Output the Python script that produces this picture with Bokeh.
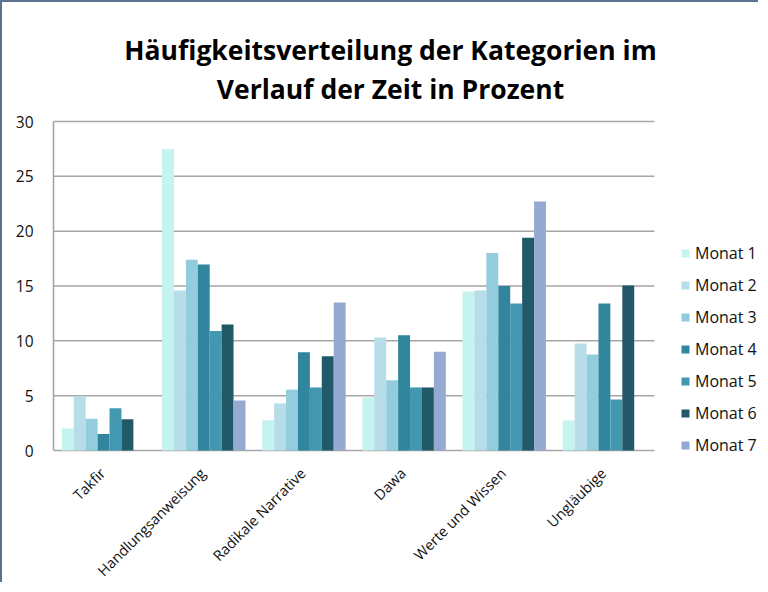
from bokeh.plotting import figure
from bokeh.models import Legend, LegendItem, ColumnDataSource, FixedTicker
from bokeh.embed import file_html
from bokeh.resources import INLINE
from bokeh.core.properties import value
import math

categories = ["Takfir", "Handlungsanweisung", "Radikale Narrative", "Dawa", "Werte und Wissen", "Ungläubige"]
series_names = ["Monat 1", "Monat 2", "Monat 3", "Monat 4", "Monat 5", "Monat 6", "Monat 7"]
monat1 = [2.0, 27.5, 2.75, 4.85, 14.5, 2.75]
monat2 = [4.9, 14.6, 4.3, 10.3, 14.6, 9.75]
monat3 = [2.9, 17.4, 5.55, 6.4, 18.0, 8.75]
monat4 = [1.5, 16.95, 8.95, 10.5, 15.0, 13.4]
monat5 = [3.85, 10.9, 5.75, 5.75, 13.4, 4.65]
monat6 = [2.85, 11.5, 8.6, 5.75, 19.4, 15.05]
monat7 = [0.0, 4.55, 13.5, 9.0, 22.7, 0.0]
y_ticks = [0, 5, 10, 15, 20, 25, 30]
title_lines = ["Häufigkeitsverteilung der Kategorien im", "Verlauf der Zeit in Prozent"]
colors = ["#c5f3ef", "#b7dde8", "#93cddd", "#31859c", "#4298b0", "#215968", "#95a9d1"]

series = [monat1, monat2, monat3, monat4, monat5, monat6, monat7]
n_cat = len(categories)
centers = [i + 0.5 for i in range(n_cat)]

FONT = "Open Sans"

# layout (pixels within the figure, which has a 2px left/top border)
W, H = 758, 582
LEFT, TOP, RIGHT_EDGE, ZERO_Y = 51, 119, 758, 448
px_per_x = 601 / n_cat
x_end = (RIGHT_EDGE - LEFT) / px_per_x
px_per_y = (ZERO_Y - TOP) / 30
y_start = -(H - ZERO_Y) / px_per_y
y_end = ZERO_Y / px_per_y

p = figure(x_range=(0, x_end), y_range=(y_start, y_end), title=None, x_axis_location=None,
           width=W, height=H, output_backend="svg", toolbar_location=None,
           min_border_left=LEFT, min_border_right=W - RIGHT_EDGE,
           min_border_top=0, min_border_bottom=0)
p.styles = {"border-left": "2px solid #5b7391", "border-top": "2px solid #5b7391"}

# grid lines and zero (category axis) line limited to the category region
p.segment(x0=[0] * len(y_ticks), x1=[n_cat] * len(y_ticks), y0=y_ticks, y1=y_ticks,
          line_color="#a6a6a6", line_width=1.5)

w = 0.119
renderers = []
for i, s in enumerate(series):
    src = ColumnDataSource({"x": [c + (i - 3) * w for c in centers], "top": s})
    r = p.vbar(x="x", top="top", width=w, source=src, fill_color=colors[i], line_color=None)
    renderers.append(r)

# rotated category labels
lab_src = ColumnDataSource({"x": centers, "y": [0] * n_cat, "text": categories})
p.text(x="x", y="y", text="text", source=lab_src, angle=math.pi / 4,
       text_align="right", text_baseline="middle", x_offset=-1, y_offset=20,
       text_font=value(FONT), text_font_size="14.5px", text_color="#111111")

# two-line title (baselines at pixel rows 47 and 86 of the figure)
title_x = (388 - LEFT) / px_per_x
title_src = ColumnDataSource({
    "x": [title_x, title_x],
    "y": [(ZERO_Y - 47) / px_per_y, (ZERO_Y - 86) / px_per_y],
    "text": title_lines,
})
p.text(x="x", y="y", text="text", source=title_src, text_align="center",
       text_baseline="alphabetic", text_font=value(FONT), text_font_size="26.5px",
       text_font_style="bold", text_color="#000000")

legend = Legend(items=[LegendItem(label=series_names[i], renderers=[renderers[i]]) for i in range(7)],
                location=(627, 128), glyph_width=10, glyph_height=10, label_height=20,
                spacing=10, padding=0, margin=0, border_line_color=None,
                background_fill_alpha=0, label_text_font=FONT, label_text_font_size="16px",
                label_text_color="#111111", label_standoff=5)
p.add_layout(legend, "center")

p.xgrid.grid_line_color = None
p.ygrid.grid_line_color = None
p.yaxis.ticker = FixedTicker(ticks=y_ticks)
p.yaxis.bounds = (0, 30)
p.yaxis.major_tick_line_color = None
p.yaxis.minor_tick_line_color = None
p.yaxis.major_label_text_font = FONT
p.yaxis.major_label_text_color = "#111111"
p.yaxis.axis_line_color = "#a0a0a0"
p.yaxis.axis_line_width = 1.5
p.yaxis.major_label_text_font_size = "15.5px"
p.yaxis.major_label_standoff = 14
p.outline_line_color = None

open("out.html", "w").write(file_html(p, INLINE))
